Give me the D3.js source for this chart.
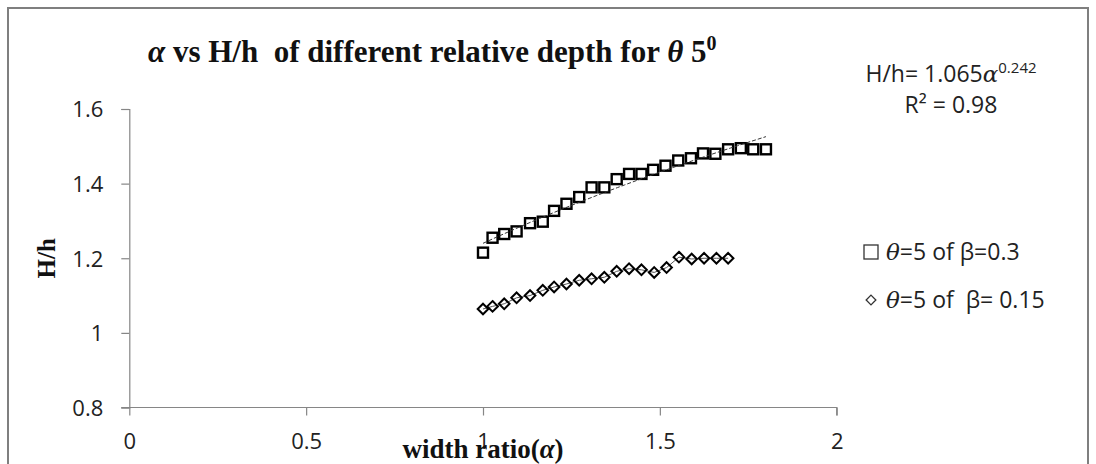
<!DOCTYPE html>
<html><head><meta charset="utf-8">
<script src="https://cdn.jsdelivr.net/npm/d3@7"></script>
<style>
html,body{margin:0;padding:0;background:#fff;}
svg{display:block;}
text{white-space:pre;}
</style></head>
<body>
<svg id="chart" width="1096" height="464"></svg>
<script>
// ---- data ----
const alphaSq = [1.000,1.027,1.060,1.095,1.133,1.169,1.201,1.236,1.272,1.307,1.343,1.378,1.413,1.448,1.481,1.516,1.552,1.588,1.622,1.657,1.693,1.729,1.764,1.800];
const hhSq    = [1.215,1.255,1.265,1.272,1.294,1.298,1.327,1.346,1.364,1.390,1.390,1.412,1.426,1.426,1.437,1.448,1.462,1.468,1.481,1.480,1.492,1.495,1.492,1.492];
const alphaDi = [1.000,1.027,1.060,1.095,1.133,1.169,1.201,1.236,1.272,1.307,1.343,1.378,1.413,1.448,1.484,1.519,1.554,1.590,1.625,1.660,1.693];
const hhDi    = [1.064,1.071,1.078,1.094,1.100,1.114,1.123,1.131,1.141,1.145,1.149,1.165,1.172,1.169,1.162,1.175,1.203,1.198,1.200,1.200,1.200];
const trendA = 1.24, trendB = 0.353;        // drawn power trendline
const trendRange = [1.0, 1.8];
const xTicks = [0, 0.5, 1, 1.5, 2];
const yTicks = [0.8, 1, 1.2, 1.4, 1.6];
const seriesNames = ["\u03B8=5 of \u03B2=0.3", "\u03B8=5 of  \u03B2= 0.15"];

// ---- layout ----
const svg = d3.select("#chart");
const x = d3.scaleLinear().domain([0, 2]).range([129.3, 836.7]);
const y = d3.scaleLinear().domain([0.8, 1.6]).range([407.5, 109]);
const axisColor = "#868686";
const sansFont = "'Open Sans', 'Noto Sans', sans-serif";
const serifFont = "'Liberation Serif', 'Times New Roman', serif";

// outer frame
svg.append("rect").attr("x", 8).attr("y", 8).attr("width", 1080).attr("height", 480)
  .attr("fill", "#fff").attr("stroke", "#7f7f7f").attr("stroke-width", 2);

// axes
const xAxis = d3.axisBottom(x).tickValues(xTicks).tickSize(8).tickFormat(d3.format("~g"));
const gx = svg.append("g").attr("transform", `translate(0,${y(0.8)})`).call(xAxis);
const yAxis = d3.axisLeft(y).tickValues(yTicks).tickSize(8).tickFormat(d3.format("~g"));
const gy = svg.append("g").attr("transform", `translate(${x(0)},0)`).call(yAxis);
[gx, gy].forEach(g => {
  g.select(".domain").attr("stroke", axisColor).attr("stroke-width", 1.2);
  g.selectAll(".tick line").attr("stroke", axisColor).attr("stroke-width", 1.2);
  g.selectAll(".tick text").attr("fill", "#222").style("font-family", sansFont).style("font-size", "22px");
});
gx.selectAll(".tick text").attr("y", 26);
gy.selectAll(".tick text").attr("x", -26).attr("dy", "0.36em");
gx.select(".domain").attr("d", `M${x(0) - 8},0H${x(2)}V8`);

// title
const title = svg.append("text").attr("x", 148).attr("y", 62)
  .style("font-family", serifFont).style("font-size", "31px").style("font-weight", "bold").attr("fill", "#111");
title.append("tspan").style("font-style", "italic").text("\u03B1");
title.append("tspan").text(" vs H/h  of different relative depth for ");
title.append("tspan").style("font-style", "italic").text("\u03B8");
title.append("tspan").text(" 5");
title.append("tspan").attr("dy", -12).style("font-size", "20px").text("0");

// axis titles
svg.append("text").attr("x", x(1)).attr("y", 458).attr("text-anchor", "middle")
  .style("font-family", serifFont).style("font-size", "27px").style("font-weight", "bold").attr("fill", "#111")
  .call(t => { t.append("tspan").text("width ratio("); t.append("tspan").style("font-style", "italic").text("\u03B1"); t.append("tspan").text(")"); });
svg.append("text").attr("transform", `translate(55,${(y(0.8) + y(1.6)) / 2}) rotate(-90)`).attr("text-anchor", "middle")
  .style("font-family", serifFont).style("font-size", "25px").style("font-weight", "bold").attr("fill", "#111").text("H/h");

// trendline (power)
const trendPts = d3.range(0, 41).map(i => trendRange[0] + (trendRange[1] - trendRange[0]) * i / 40);
const line = d3.line().x(d => x(d[0])).y(d => y(d[1]));

// diamond connector
svg.append("path").datum(alphaDi.map((a, i) => [a, hhDi[i]]))
  .attr("d", line).attr("fill", "none").attr("stroke", "#555").attr("stroke-width", 1);

// square markers
svg.append("g").selectAll("rect").data(alphaSq.map((a, i) => [a, hhSq[i]])).join("rect")
  .attr("x", d => x(d[0]) - 5).attr("y", d => y(d[1]) - 5).attr("width", 10).attr("height", 10)
  .attr("fill", "none").attr("stroke", "#000").attr("stroke-width", 2.4);

// diamond markers
const dsym = d3.symbol().type(d3.symbolDiamond2).size(72);
svg.append("g").selectAll("path").data(alphaDi.map((a, i) => [a, hhDi[i]])).join("path")
  .attr("d", dsym).attr("transform", d => `translate(${x(d[0])},${y(d[1])})`)
  .attr("fill", "none").attr("stroke", "#000").attr("stroke-width", 2);

svg.append("path").datum(trendPts.map(a => [a, trendA * Math.pow(a, trendB)]))
  .attr("d", line).attr("fill", "none").attr("stroke", "#333").attr("stroke-width", 1).attr("stroke-dasharray", "4,2");

// equation
const eq = svg.append("text").attr("x", 951).attr("y", 82).attr("text-anchor", "middle")
  .style("font-family", sansFont).style("font-size", "23px").attr("fill", "#222");
eq.append("tspan").text("H/h= 1.065");
eq.append("tspan").style("font-style", "italic").style("font-family", "'DejaVu Serif', serif").text("\u03B1");
eq.append("tspan").attr("dy", -9).style("font-size", "15px").text("0.242");
svg.append("text").attr("x", 951).attr("y", 113).attr("text-anchor", "middle")
  .style("font-family", sansFont).style("font-size", "23px").attr("fill", "#222").text("R\u00B2 = 0.98");

// legend
const legY = [252, 300];
svg.append("rect").attr("x", 864).attr("y", legY[0] - 7).attr("width", 14).attr("height", 14)
  .attr("fill", "none").attr("stroke", "#333").attr("stroke-width", 1.3);
svg.append("path").attr("d", d3.symbol().type(d3.symbolDiamond2).size(60)())
  .attr("transform", `translate(871,${legY[1]})`).attr("fill", "none").attr("stroke", "#333").attr("stroke-width", 1.3);
seriesNames.forEach((name, i) => {
  const t = svg.append("text").attr("x", 886).attr("y", legY[i] + 8)
    .style("font-family", sansFont).style("font-size", "23px").attr("fill", "#222");
  t.append("tspan").style("font-style", "italic").style("font-family", "'DejaVu Serif', serif").text(name[0]);
  t.append("tspan").text(name.slice(1));
});
</script>
</body></html>
